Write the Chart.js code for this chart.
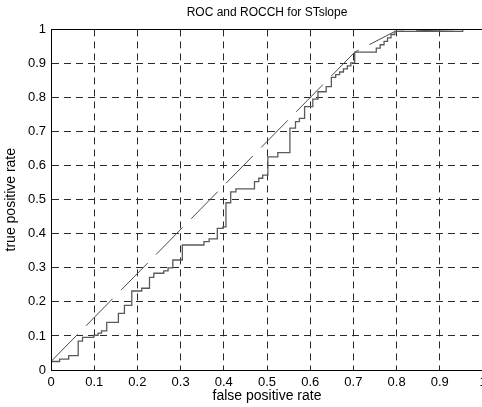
<!DOCTYPE html>
<html>
<head>
<meta charset="utf-8">
<script src="https://cdn.jsdelivr.net/npm/chart.js@4"></script>
<style>
  html, body { margin: 0; padding: 0; background: #fff; overflow: hidden; }
  #wrap { width: 482px; height: 407px; overflow: hidden; }
</style>
</head>
<body>
<div id="wrap"><canvas id="roc" width="484" height="407"></canvas></div>
<script>
// ROC curve (step points: x where the curve jumps, y after the jump)
const rocFpr = [0, 0.02, 0.041, 0.063, 0.073, 0.099, 0.109, 0.117, 0.129, 0.156, 0.17, 0.187, 0.21, 0.228,
  0.238, 0.261, 0.271, 0.282, 0.304, 0.354, 0.366, 0.385, 0.398, 0.405, 0.416, 0.428,
  0.471, 0.481, 0.49, 0.502, 0.525, 0.553, 0.566, 0.575, 0.587, 0.606, 0.618, 0.637, 0.649,
  0.659, 0.668, 0.677, 0.686, 0.694, 0.703, 0.753, 0.762, 0.771, 0.779, 0.787, 0.796, 0.953, 1];
const rocTpr = [0.025, 0.032, 0.042, 0.085, 0.096, 0.102, 0.108, 0.115, 0.14, 0.166, 0.19, 0.232, 0.24, 0.272,
  0.284, 0.291, 0.3, 0.323, 0.367, 0.377, 0.385, 0.416, 0.42, 0.491, 0.523, 0.532,
  0.553, 0.563, 0.572, 0.626, 0.638, 0.71, 0.729, 0.739, 0.773, 0.795, 0.817, 0.832, 0.859,
  0.867, 0.875, 0.884, 0.893, 0.902, 0.933, 0.945, 0.955, 0.965, 0.975, 0.985, 0.994, 1, 1];

// ROC convex hull
const hullFpr = [0, 0.703, 0.796, 0.953, 1];
const hullTpr = [0.025, 0.933, 0.994, 1, 1];

const xTicks = [0, 0.1, 0.2, 0.3, 0.4, 0.5, 0.6, 0.7, 0.8, 0.9, 1];
const xTickLabels = ['0', '0.1', '0.2', '0.3', '0.4', '0.5', '0.6', '0.7', '0.8', '0.9', '1'];
const yTicks = [0, 0.1, 0.2, 0.3, 0.4, 0.5, 0.6, 0.7, 0.8, 0.9, 1];
const yTickLabels = ['0', '0.1', '0.2', '0.3', '0.4', '0.5', '0.6', '0.7', '0.8', '0.9', '1'];

const FONT = '"Liberation Sans", Arial, Helvetica, sans-serif';

const toPoints = (xs, ys) => xs.map((x, i) => ({ x: x, y: ys[i] }));

// box around the axes, like matlab's "box on"
const boxPlugin = {
  id: 'box',
  afterDraw(chart) {
    const { ctx, chartArea: a } = chart;
    ctx.save();
    ctx.strokeStyle = '#000';
    ctx.lineWidth = 1;
    ctx.setLineDash([]);
    ctx.strokeRect(Math.round(a.left) + 0.5, Math.round(a.top) + 0.5,
      Math.round(a.right - a.left), Math.round(a.bottom - a.top));
    ctx.restore();
  }
};

const gridOpts = {
  color: '#2a2a2a',
  lineWidth: 1,
  drawTicks: false
};

new Chart(document.getElementById('roc').getContext('2d'), {
  type: 'line',
  data: {
    datasets: [
      {
        label: 'ROC',
        data: toPoints(rocFpr, rocTpr),
        stepped: true,
        borderColor: '#5a5a5a',
        borderWidth: 1.3,
        pointRadius: 0,
        fill: false
      },
      {
        label: 'ROCCH',
        data: toPoints(hullFpr, hullTpr),
        borderColor: '#4a4a4a',
        borderWidth: 1,
        borderDash: [38, 12],
        pointRadius: 0,
        fill: false,
        tension: 0
      }
    ]
  },
  options: {
    responsive: false,
    animation: false,
    layout: { padding: { left: 0, right: 1, top: 0, bottom: 0 } },
    plugins: {
      legend: { display: false },
      tooltip: { enabled: false },
      title: {
        display: true,
        text: 'ROC and ROCCH for STslope',
        fullSize: false,
        color: '#000',
        font: { family: FONT, size: 12, weight: 'normal' },
        padding: { top: 5, bottom: 10 }
      }
    },
    scales: {
      x: {
        type: 'linear',
        min: 0,
        max: 1,
        afterBuildTicks: s => { s.ticks = xTicks.map(v => ({ value: v })); },
        afterFit: s => { s.height = 37; s.paddingLeft = 0; s.paddingRight = 0; },
        ticks: {
          callback: (v, i) => xTickLabels[i],
          color: '#000',
          font: { family: FONT, size: 13 },
          padding: 5,
          maxRotation: 0
        },
        grid: gridOpts,
        border: { display: true, color: '#000', width: 1, dash: [7, 5] },
        title: {
          display: true,
          text: 'false positive rate',
          color: '#000',
          font: { family: FONT, size: 14 },
          padding: { top: 0, bottom: 2 }
        }
      },
      y: {
        type: 'linear',
        min: 0,
        max: 1,
        afterBuildTicks: s => { s.ticks = yTicks.map(v => ({ value: v })); },
        afterFit: s => { s.width = 51; },
        ticks: {
          callback: (v, i) => yTickLabels[i],
          color: '#000',
          font: { family: FONT, size: 13 },
          padding: 5
        },
        grid: gridOpts,
        border: { display: true, color: '#000', width: 1, dash: [7, 5] },
        title: {
          display: true,
          text: 'true positive rate',
          color: '#000',
          font: { family: FONT, size: 14 },
          padding: { top: 3, bottom: 0 }
        }
      }
    }
  },
  plugins: [boxPlugin]
});
</script>
</body>
</html>
